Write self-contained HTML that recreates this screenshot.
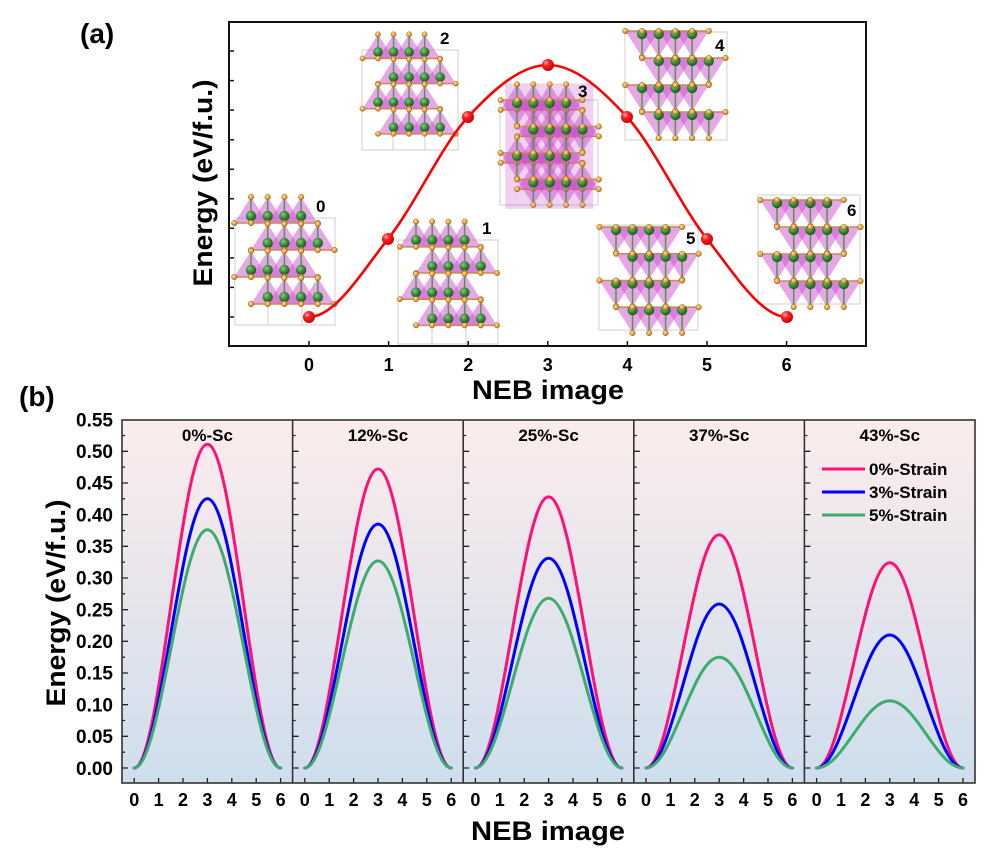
<!DOCTYPE html>
<html>
<head>
<meta charset="utf-8">
<style>
html,body{margin:0;padding:0;background:#fff;}
svg{display:block;}
text{font-family:"Liberation Sans",Arial,sans-serif;font-weight:bold;fill:#000;}
</style>
</head>
<body>
<svg width="988" height="856" viewBox="0 0 988 856" xmlns="http://www.w3.org/2000/svg">
<defs>
  <linearGradient id="bg" x1="0" y1="0" x2="0" y2="1">
    <stop offset="0" stop-color="#fcecec"/>
    <stop offset="1" stop-color="#cedeed"/>
  </linearGradient>
  <radialGradient id="gg" cx="0.38" cy="0.35" r="0.7">
    <stop offset="0" stop-color="#86cc86"/>
    <stop offset="0.5" stop-color="#368e36"/>
    <stop offset="1" stop-color="#175417"/>
  </radialGradient>
  <radialGradient id="og" cx="0.38" cy="0.35" r="0.7">
    <stop offset="0" stop-color="#ffe2a0"/>
    <stop offset="0.6" stop-color="#e0a040"/>
    <stop offset="1" stop-color="#a86a10"/>
  </radialGradient>
  <radialGradient id="rg" cx="0.35" cy="0.32" r="0.75">
    <stop offset="0" stop-color="#ffb0b0"/>
    <stop offset="0.35" stop-color="#ff2020"/>
    <stop offset="1" stop-color="#c00000"/>
  </radialGradient>

  <g id="U">
    <g fill="#d050d0" fill-opacity="0.5">
      <polygon points="0,-19 -16.7,7 16.7,7"/>
      <polygon points="16.7,-19 0,7 33.4,7"/>
      <polygon points="33.4,-19 16.7,7 50.1,7"/>
      <polygon points="50.1,-19 33.4,7 66.8,7"/>
    </g>
    <path d="M-16.7 7H66.8" stroke="#c88a5a" stroke-width="1.6"/>
    <path d="M0 -19V7M16.7 -19V7M33.4 -19V7M50.1 -19V7" stroke="#4a9a4a" stroke-width="1.5"/>
    <g fill="url(#gg)">
      <circle cx="0" cy="0" r="5.2"/><circle cx="16.7" cy="0" r="5.2"/>
      <circle cx="33.4" cy="0" r="5.2"/><circle cx="50.1" cy="0" r="5.2"/>
    </g>
    <g fill="url(#og)" stroke="#9a6410" stroke-width="0.5">
      <circle cx="0" cy="-19" r="2.8"/><circle cx="16.7" cy="-19" r="2.8"/>
      <circle cx="33.4" cy="-19" r="2.8"/><circle cx="50.1" cy="-19" r="2.8"/>
      <circle cx="-16.7" cy="7" r="2.8"/><circle cx="0" cy="7" r="2.8"/>
      <circle cx="16.7" cy="7" r="2.8"/><circle cx="33.4" cy="7" r="2.8"/>
      <circle cx="50.1" cy="7" r="2.8"/><circle cx="66.8" cy="7" r="2.8"/>
    </g>
  </g>

  <g id="D">
    <g fill="#d050d0" fill-opacity="0.5">
      <polygon points="0,23 -16.7,-3 16.7,-3"/>
      <polygon points="16.7,23 0,-3 33.4,-3"/>
      <polygon points="33.4,23 16.7,-3 50.1,-3"/>
      <polygon points="50.1,23 33.4,-3 66.8,-3"/>
    </g>
    <path d="M-16.7 -3H66.8" stroke="#c88a5a" stroke-width="1.6"/>
    <path d="M0 -3V23M16.7 -3V23M33.4 -3V23M50.1 -3V23" stroke="#4a9a4a" stroke-width="1.5"/>
    <g fill="url(#gg)">
      <circle cx="0" cy="0" r="5.2"/><circle cx="16.7" cy="0" r="5.2"/>
      <circle cx="33.4" cy="0" r="5.2"/><circle cx="50.1" cy="0" r="5.2"/>
    </g>
    <g fill="url(#og)" stroke="#9a6410" stroke-width="0.5">
      <circle cx="0" cy="23" r="2.8"/><circle cx="16.7" cy="23" r="2.8"/>
      <circle cx="33.4" cy="23" r="2.8"/><circle cx="50.1" cy="23" r="2.8"/>
      <circle cx="-16.7" cy="-3" r="2.8"/><circle cx="0" cy="-3" r="2.8"/>
      <circle cx="16.7" cy="-3" r="2.8"/><circle cx="33.4" cy="-3" r="2.8"/>
      <circle cx="50.1" cy="-3" r="2.8"/><circle cx="66.8" cy="-3" r="2.8"/>
    </g>
  </g>

  <g id="SU">
    <use href="#U" x="0" y="0"/><use href="#U" x="16.7" y="27"/>
    <use href="#U" x="0" y="54"/><use href="#U" x="16.7" y="81"/>
  </g>
  <g id="SD">
    <use href="#D" x="0" y="0"/><use href="#D" x="16.7" y="27"/>
    <use href="#D" x="0" y="54"/><use href="#D" x="16.7" y="81"/>
  </g>

  <path id="yt" d="M0 768h6M0 752.2h3M0 736.3h6M0 720.5h3M0 704.7h6M0 688.8h3M0 673h6M0 657.2h3M0 641.3h6M0 625.5h3M0 609.7h6M0 593.8h3M0 578h6M0 562.1h3M0 546.3h6M0 530.5h3M0 514.6h6M0 498.8h3M0 483h6M0 467.1h3M0 451.3h6M0 435.5h3" stroke="#222" stroke-width="1.3" fill="none"/>
  <path id="xt" d="M12.2 783v-5M36.6 783v-5M61 783v-5M85.4 783v-5M109.8 783v-5M134.2 783v-5M158.6 783v-5" stroke="#222" stroke-width="1.3" fill="none"/>
</defs>

<!-- ================= (a) ================= -->
<text x="80" y="43" font-size="28">(a)</text>

<g fill="none" stroke="#cfcfcf" stroke-width="1">
  <rect x="235" y="218" width="100" height="107"/><path d="M268 260V325M302 260V325"/>
  <rect x="398" y="240" width="100" height="104"/><path d="M432 300V344M466 300V344"/>
  <rect x="362" y="50" width="96" height="100"/><path d="M393 100V150M425 100V150"/>
  <rect x="500" y="100" width="98" height="105"/>
  <rect x="625" y="32" width="102" height="108"/>
  <rect x="599" y="225" width="99" height="105"/>
  <rect x="758" y="195" width="102" height="109"/>
</g>
<use href="#SU" transform="translate(251,216)"/>
<use href="#SU" transform="translate(416,240) scale(0.97)"/>
<use href="#SU" transform="translate(378,52) scale(0.93)"/>
<g transform="translate(517,103) scale(0.98)">
  <rect x="-12" y="-20" width="90" height="128" fill="#c848c8" fill-opacity="0.25"/>
  <use href="#SU"/><use href="#SD"/>
</g>
<use href="#SD" transform="translate(642,34)"/>
<use href="#SD" transform="translate(616,230) scale(0.99)"/>
<use href="#SD" transform="translate(777,203)"/>

<g font-size="17">
  <text x="316" y="212">0</text>
  <text x="482" y="234">1</text>
  <text x="440" y="44">2</text>
  <text x="578" y="97">3</text>
  <text x="715" y="51">4</text>
  <text x="686" y="244">5</text>
  <text x="847" y="216">6</text>
</g>

<rect x="229" y="22" width="637" height="324" fill="none" stroke="#111" stroke-width="2"/>
<path d="M229 51h5M229 80.6h5M229 110.1h5M229 139.7h5M229 169.2h5M229 198.8h5M229 228.3h5M229 257.9h5M229 287.4h5M229 317h5" stroke="#111" stroke-width="1.5"/>
<path d="M309 346v-5M388.6 346v-5M468.2 346v-5M547.8 346v-5M627.4 346v-5M707 346v-5M786.6 346v-5" stroke="#111" stroke-width="1.5"/>

<path d="M309 317C335.3 317 361.5 272.3 388 239C414.5 205.7 441.3 146 468 117C494.7 88 521.5 65 548 65C574.5 65 600.3 88 627 117C653.7 146 680.5 205.7 707 239C733.5 272.3 760.7 317 787 317" fill="none" stroke="#ff0000" stroke-width="2.6"/>
<g fill="url(#rg)">
  <circle cx="309" cy="317" r="6"/><circle cx="388" cy="239" r="6"/>
  <circle cx="468" cy="117" r="6"/><circle cx="548" cy="65" r="6"/>
  <circle cx="627" cy="117" r="6"/><circle cx="707" cy="239" r="6"/>
  <circle cx="787" cy="317" r="6"/>
</g>

<text x="309 388.6 468.2 547.8 627.4 707 786.6" y="371" font-size="18" text-anchor="middle">0123456</text>
<text x="548" y="399" font-size="27" text-anchor="middle" textLength="152" lengthAdjust="spacingAndGlyphs">NEB image</text>
<text transform="translate(212,183) rotate(-90)" x="0" y="0" font-size="27" text-anchor="middle" textLength="207" lengthAdjust="spacingAndGlyphs">Energy (eV/f.u.)</text>

<!-- ================= (b) ================= -->
<text x="19" y="406" font-size="28">(b)</text>

<rect x="122" y="420" width="853" height="363" fill="url(#bg)"/>

<g fill="none" stroke-width="3" stroke-linecap="round">
  <g stroke="#ff1077">
    <path d="M134.2 768C160.8 768 180.8 444.3 207.4 444.3C234 444.3 254 768 280.6 768"/>
    <path d="M304.8 768C331.4 768 351.4 469 378 469C404.6 469 424.6 768 451.2 768"/>
    <path d="M475.4 768C502 768 522 496.9 548.6 496.9C575.2 496.9 595.2 768 621.8 768"/>
    <path d="M646 768C672.6 768 692.6 534.9 719.2 534.9C745.8 534.9 765.8 768 792.4 768"/>
    <path d="M816.6 768C843.2 768 863.2 562.8 889.8 562.8C916.4 562.8 936.4 768 963 768"/>
  </g>
  <g stroke="#0000ff">
    <path d="M134.2 768C160.8 768 180.8 498.8 207.4 498.8C234 498.8 254 768 280.6 768"/>
    <path d="M304.8 768C331.4 768 351.4 524.1 378 524.1C404.6 524.1 424.6 768 451.2 768"/>
    <path d="M475.4 768C502 768 522 558.3 548.6 558.3C575.2 558.3 595.2 768 621.8 768"/>
    <path d="M646 768C672.6 768 692.6 604 719.2 604C745.8 604 765.8 768 792.4 768"/>
    <path d="M816.6 768C843.2 768 863.2 635 889.8 635C916.4 635 936.4 768 963 768"/>
  </g>
  <g stroke="#3cac6c">
    <path d="M134.2 768C160.8 768 180.8 529.8 207.4 529.8C234 529.8 254 768 280.6 768"/>
    <path d="M304.8 768C331.4 768 351.4 560.9 378 560.9C404.6 560.9 424.6 768 451.2 768"/>
    <path d="M475.4 768C502 768 522 598.2 548.6 598.2C575.2 598.2 595.2 768 621.8 768"/>
    <path d="M646 768C672.6 768 692.6 657.2 719.2 657.2C745.8 657.2 765.8 768 792.4 768"/>
    <path d="M816.6 768C843.2 768 863.2 700.9 889.8 700.9C916.4 700.9 936.4 768 963 768"/>
  </g>
</g>

<use href="#yt" x="122"/><use href="#yt" x="292.6"/><use href="#yt" x="463.2"/><use href="#yt" x="633.8"/><use href="#yt" x="804.4"/>
<use href="#xt" x="122"/><use href="#xt" x="292.6"/><use href="#xt" x="463.2"/><use href="#xt" x="633.8"/><use href="#xt" x="804.4"/>

<rect x="122" y="420" width="853" height="363" fill="none" stroke="#333" stroke-width="1.6"/>
<path d="M292.6 420V783M463.2 420V783M633.8 420V783M804.4 420V783" stroke="#333" stroke-width="1.6"/>

<g font-size="17" text-anchor="middle">
  <text x="207.4" y="441">0%-Sc</text>
  <text x="378" y="441">12%-Sc</text>
  <text x="548.6" y="441">25%-Sc</text>
  <text x="719.2" y="441">37%-Sc</text>
  <text x="889.8" y="441">43%-Sc</text>
</g>

<path d="M822 469H865" stroke="#ff1077" stroke-width="3"/>
<path d="M822 492H865" stroke="#0000ff" stroke-width="3"/>
<path d="M822 515H865" stroke="#3cac6c" stroke-width="3"/>
<g font-size="17">
  <text x="869" y="475">0%-Strain</text>
  <text x="869" y="498">3%-Strain</text>
  <text x="869" y="521">5%-Strain</text>
</g>

<g font-size="19" text-anchor="end">
  <text x="113" y="775">0.00</text>
  <text x="113" y="743">0.05</text>
  <text x="113" y="711.4">0.10</text>
  <text x="113" y="679.7">0.15</text>
  <text x="113" y="648">0.20</text>
  <text x="113" y="616.4">0.25</text>
  <text x="113" y="584.7">0.30</text>
  <text x="113" y="553">0.35</text>
  <text x="113" y="521.3">0.40</text>
  <text x="113" y="489.7">0.45</text>
  <text x="113" y="458">0.50</text>
  <text x="113" y="426.3">0.55</text>
</g>

<g font-size="18" text-anchor="middle">
  <text x="134.2 158.6 183 207.4 231.8 256.2 280.6" y="806">0123456</text>
  <text x="304.8 329.2 353.6 378 402.4 426.8 451.2" y="806">0123456</text>
  <text x="475.4 499.8 524.2 548.6 573 597.4 621.8" y="806">0123456</text>
  <text x="646 670.4 694.8 719.2 743.6 768 792.4" y="806">0123456</text>
  <text x="816.6 841 865.4 889.8 914.2 938.6 963" y="806">0123456</text>
</g>

<text x="548" y="840" font-size="27" text-anchor="middle" textLength="154" lengthAdjust="spacingAndGlyphs">NEB image</text>
<text transform="translate(65,603) rotate(-90)" x="0" y="0" font-size="27" text-anchor="middle" textLength="207" lengthAdjust="spacingAndGlyphs">Energy (eV/f.u.)</text>
</svg>
</body>
</html>
